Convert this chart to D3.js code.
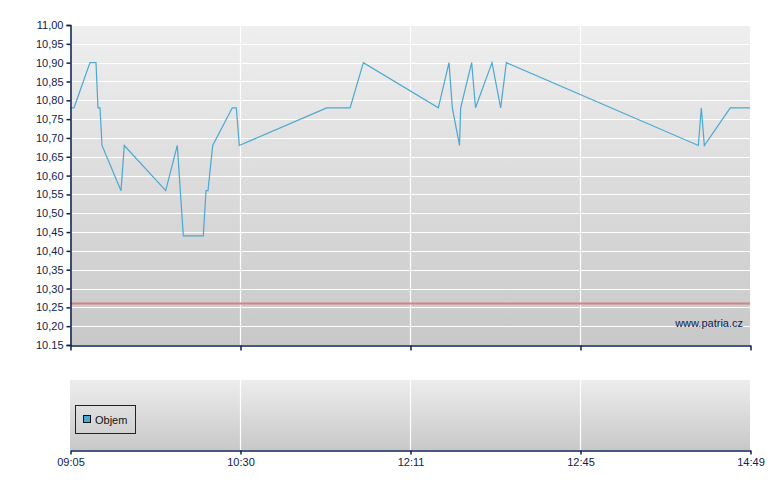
<!DOCTYPE html>
<html>
<head>
<meta charset="utf-8">
<script src="https://cdn.jsdelivr.net/npm/d3@7"></script>
<style>
  html, body { margin: 0; padding: 0; background: #ffffff; }
  svg { display: block; font-family: "Liberation Sans", Arial, sans-serif; }
</style>
</head>
<body>
<svg id="chart" width="780" height="490"></svg>
<script>
// ---- data ----
const times = ["09:05:00","09:07:00","09:15:00","09:18:00","09:19:00","09:20:00","09:21:00",
  "09:30:30","09:32:09","09:52:51","09:58:39","10:01:39","10:11:39","10:13:00","10:14:00",
  "10:16:21","10:26:09","10:28:09","10:29:39","11:21:30","11:35:24","11:43:18","12:16:40",
  "12:18:48","12:19:28","12:20:54","12:21:08","12:23:20","12:24:06","12:27:24","12:29:08",
  "12:30:16","14:11:18","14:13:30","14:15:42","14:34:36","14:49:00"];
const prices = [10.78,10.78,10.90,10.90,10.78,10.78,10.68,
  10.56,10.68,10.56,10.68,10.44,10.44,10.56,10.56,
  10.68,10.78,10.78,10.68,10.78,10.78,10.90,10.78,
  10.90,10.78,10.68,10.78,10.90,10.78,10.90,10.78,
  10.90,10.68,10.78,10.68,10.78,10.78];
const referencePrice = 10.26;
const xTickTimes = ["09:05","10:30","12:11","12:45","14:49"];
const yTickValues = [10.15,10.20,10.25,10.30,10.35,10.40,10.45,10.50,10.55,10.60,10.65,10.70,10.75,10.80,10.85,10.90,10.95,11.00];
const yTickLabels = ["10.15","10,20","10,25","10,30","10,35","10,40","10,45","10,50","10,55","10,60","10,65","10,70","10,75","10,80","10,85","10,90","10,95","11,00"];
const legendLabel = "Objem";
const watermark = "www.patria.cz";

// ---- layout ----
const svg = d3.select("#chart");
const left = 70, right = 750;
const mainTop = 25, mainBottom = 345;
const volTop = 380, volBottom = 450;
const textColor = "#0d2350";
const axisColor = "#0a2050";

const parseT = d3.timeParse("%H:%M:%S");
const parseTick = d3.timeParse("%H:%M");
const tickDates = xTickTimes.map(parseTick);
const xRange = tickDates.map((d, i) => left + (right - left) * i / (tickDates.length - 1));
const x = d3.scaleTime().domain(tickDates).range(xRange);
const y = d3.scaleLinear().domain([10.15, 11.00]).range([mainBottom, mainTop]);

const data = times.map((t, i) => ({ t: parseT(t), v: prices[i] }));

// gradients
const defs = svg.append("defs");
const g1 = defs.append("linearGradient").attr("id", "bgMain").attr("x1", 0).attr("y1", 0).attr("x2", 0).attr("y2", 1);
g1.append("stop").attr("offset", "0%").attr("stop-color", "#efefef");
g1.append("stop").attr("offset", "100%").attr("stop-color", "#c8c8c8");
const g2 = defs.append("linearGradient").attr("id", "bgVol").attr("x1", 0).attr("y1", 0).attr("x2", 0).attr("y2", 1);
g2.append("stop").attr("offset", "0%").attr("stop-color", "#ededed");
g2.append("stop").attr("offset", "100%").attr("stop-color", "#c8c8c8");

// main panel background
svg.append("rect").attr("x", left).attr("y", mainTop).attr("width", right - left).attr("height", mainBottom - mainTop).attr("fill", "url(#bgMain)");
// volume panel background
svg.append("rect").attr("x", left).attr("y", volTop).attr("width", right - left).attr("height", volBottom - volTop).attr("fill", "url(#bgVol)");

// horizontal grid
svg.append("g").selectAll("line").data(yTickValues.slice(1)).join("line")
  .attr("x1", left).attr("x2", right)
  .attr("y1", d => Math.round(y(d)) + 0.5).attr("y2", d => Math.round(y(d)) + 0.5)
  .attr("stroke", "#ffffff").attr("stroke-width", 1.2);

// vertical grid (both panels)
const innerTicks = tickDates.slice(1, -1);
[[mainTop, mainBottom], [volTop, volBottom]].forEach(([t, b]) => {
  svg.append("g").selectAll("line").data(innerTicks).join("line")
    .attr("x1", d => Math.round(x(d)) + 0.5).attr("x2", d => Math.round(x(d)) + 0.5)
    .attr("y1", t).attr("y2", b)
    .attr("stroke", "#ffffff").attr("stroke-width", 1.2);
});

// reference line
svg.append("line").attr("x1", left).attr("x2", right)
  .attr("y1", y(referencePrice)).attr("y2", y(referencePrice))
  .attr("stroke", "#d98080").attr("stroke-width", 2);

// price line
svg.append("path").datum(data)
  .attr("fill", "none").attr("stroke", "#4aa8d2").attr("stroke-width", 1.2)
  .attr("stroke-linejoin", "miter")
  .attr("d", d3.line().x(d => x(d.t)).y(d => y(d.v)));

// y axis
const yAxis = d3.axisLeft(y).tickValues(yTickValues)
  .tickFormat((d, i) => yTickLabels[i]).tickSize(4).tickPadding(3);
const gy = svg.append("g").attr("transform", `translate(${left + 0.5},0)`).call(yAxis);
gy.select(".domain").attr("stroke", axisColor).attr("stroke-width", 1.5);
gy.selectAll(".tick line").attr("stroke", axisColor).attr("stroke-width", 1.5);
gy.selectAll(".tick text").attr("fill", textColor).style("font-size", "11px").style("font-family", "'Liberation Sans', Arial, sans-serif");

// main x axis (ticks only, no labels)
const xAxisMain = d3.axisBottom(x).tickValues(tickDates).tickFormat("").tickSize(5).tickSizeOuter(0);
const gxm = svg.append("g").attr("transform", `translate(0.5,${mainBottom + 0.5})`).call(xAxisMain);
gxm.select(".domain").attr("stroke", axisColor).attr("stroke-width", 1.5);
gxm.selectAll(".tick line").attr("stroke", axisColor).attr("stroke-width", 1.5);

// volume x axis with labels
const xAxisVol = d3.axisBottom(x).tickValues(tickDates)
  .tickFormat((d, i) => xTickTimes[i]).tickSize(4).tickSizeOuter(0).tickPadding(4);
const gxv = svg.append("g").attr("transform", `translate(0.5,${volBottom + 0.5})`).call(xAxisVol);
gxv.select(".domain").attr("stroke", axisColor).attr("stroke-width", 1.5);
gxv.selectAll(".tick line").attr("stroke", axisColor).attr("stroke-width", 1.5);
gxv.selectAll(".tick text").attr("fill", textColor).style("font-size", "11px").style("font-family", "'Liberation Sans', Arial, sans-serif");

// watermark
svg.append("text").attr("x", 743).attr("y", 327).attr("text-anchor", "end")
  .attr("fill", textColor).style("font-size", "11px").text(watermark);

// legend
const lg = svg.append("g");
lg.append("rect").attr("x", 75.5).attr("y", 405.5).attr("width", 60).attr("height", 28)
  .attr("fill", "none").attr("stroke", "#222").attr("stroke-width", 1);
lg.append("rect").attr("x", 83.5).attr("y", 415.5).attr("width", 7).attr("height", 7)
  .attr("fill", "#4aa8d2").attr("stroke", "#111").attr("stroke-width", 1);
lg.append("text").attr("x", 95).attr("y", 423.5).attr("fill", "#111")
  .style("font-size", "11px").text(legendLabel);
</script>
</body>
</html>
